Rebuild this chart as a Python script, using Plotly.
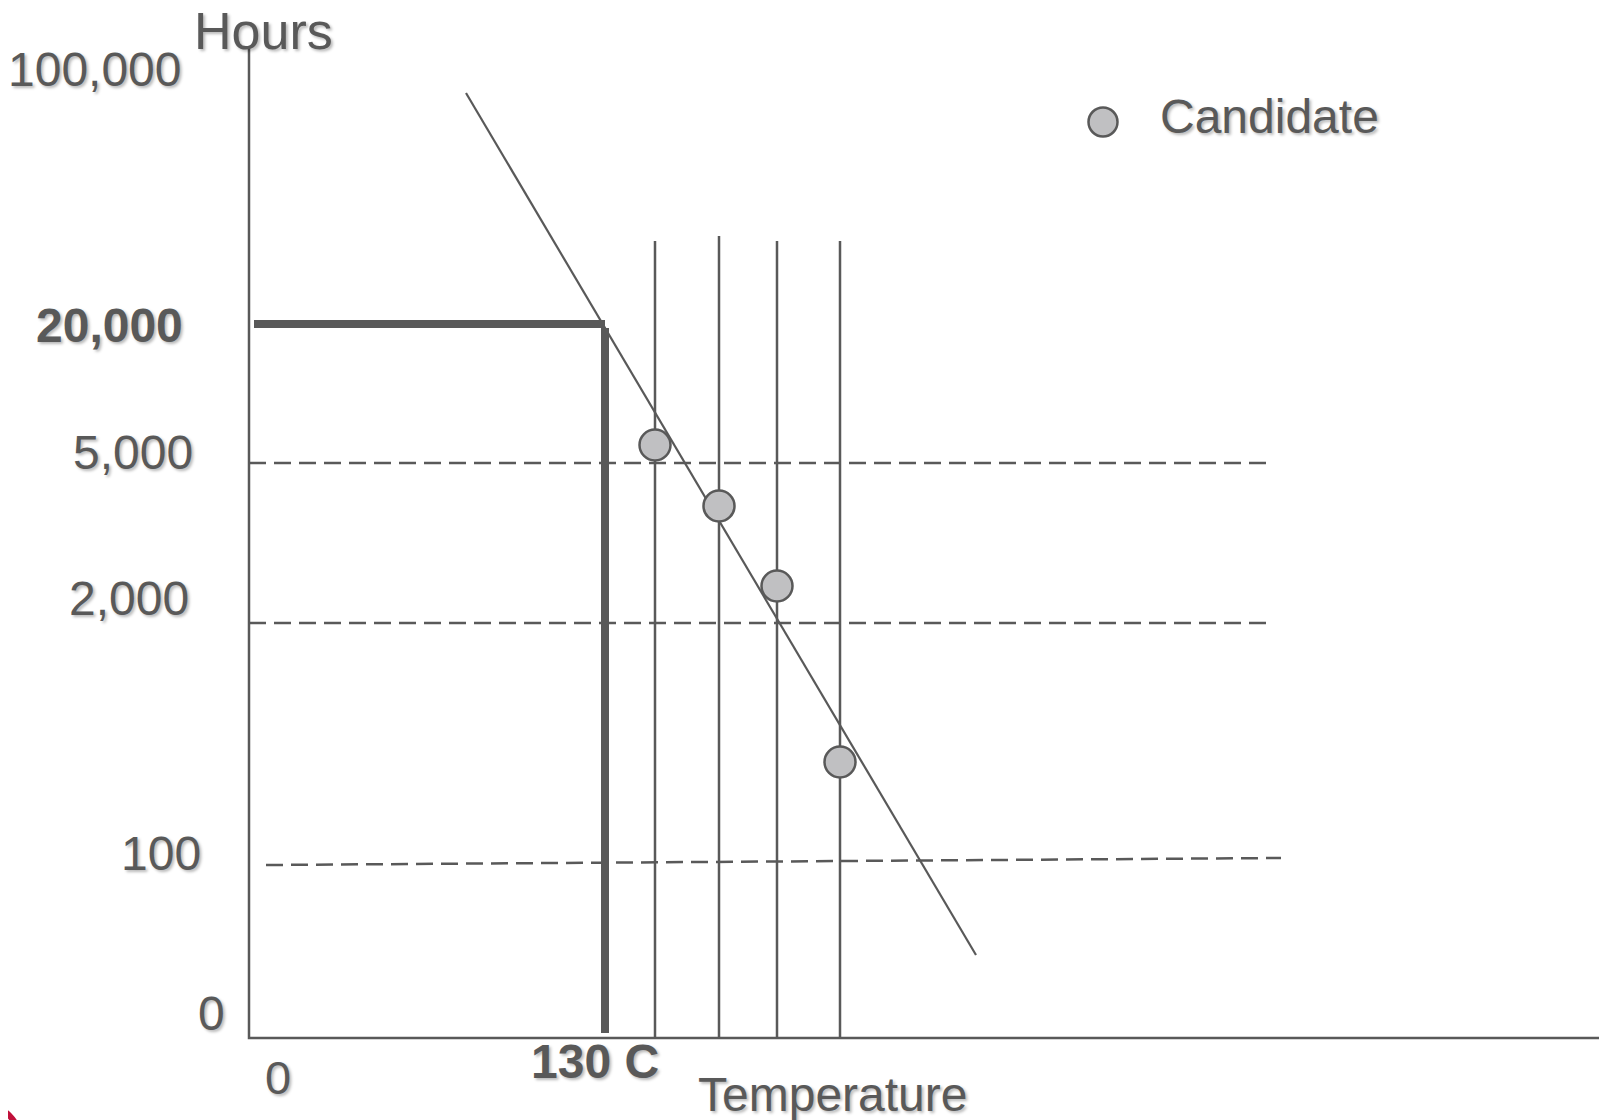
import plotly.graph_objects as go

# Schematic coordinate system: origin at the axes intersection
# x = temperature position, y = hours-level position (schematic units)
hour_labels = ["100,000", "20,000", "5,000", "2,000", "100", "0"]
hour_label_y = [969, 713, 586, 440, 185, 25]
hour_label_right = [-65, -64, -54, -58, -46, -22]
hour_label_bold = [False, True, False, False, False, False]

dashed_levels_y = [575, 415]
dashed_end_x = 1020
level100_y = [173, 180]
level100_x = [17, 1032]

spec_temp_x = 356          # 130 C
spec_hours_y = 714         # 20,000 h

candidate_temp = [406, 470, 528, 591]
candidate_hours = [593, 532, 452, 276]
candidate_line_top = [797, 802, 797, 797]

fit_x = [217, 727]
fit_y = [945, 83]

axis_top = 992
axis_right = 1370

ink = "#595959"
font_family = "Liberation Sans, Arial, sans-serif"
shadow = "2px 2px 3px rgba(0,0,0,0.28)"
dash = "17px,8px"

fig = go.Figure()

# Vertical candidate lines
for tx, top in zip(candidate_temp, candidate_line_top):
    fig.add_trace(go.Scatter(x=[tx, tx], y=[0, top], mode="lines",
                             line=dict(color=ink, width=2.5), hoverinfo="skip", showlegend=False))

# Dashed level lines
for ly in dashed_levels_y:
    fig.add_trace(go.Scatter(x=[0, dashed_end_x], y=[ly, ly], mode="lines",
                             line=dict(color=ink, width=2.5, dash=dash), hoverinfo="skip", showlegend=False))
fig.add_trace(go.Scatter(x=level100_x, y=level100_y, mode="lines",
                         line=dict(color=ink, width=2.5, dash=dash), hoverinfo="skip", showlegend=False))

# Fitted trend line
fig.add_trace(go.Scatter(x=fit_x, y=fit_y, mode="lines",
                         line=dict(color=ink, width=2.2), hoverinfo="skip", showlegend=False))

# Spec (20,000 h @ 130 C) thick lines
fig.add_trace(go.Scatter(x=[5, spec_temp_x], y=[spec_hours_y, spec_hours_y], mode="lines",
                         line=dict(color=ink, width=8), hoverinfo="skip", showlegend=False))
fig.add_trace(go.Scatter(x=[spec_temp_x, spec_temp_x], y=[5, spec_hours_y - 4], mode="lines",
                         line=dict(color=ink, width=8), hoverinfo="skip", showlegend=False))

# Axes
fig.add_trace(go.Scatter(x=[0, 0, axis_right], y=[axis_top, 0, 0], mode="lines",
                         line=dict(color=ink, width=2.5), hoverinfo="skip", showlegend=False))

# Candidate points
fig.add_trace(go.Scatter(x=candidate_temp, y=candidate_hours, mode="markers",
                         marker=dict(size=31, color="#C0C0C2", line=dict(color=ink, width=2.5)),
                         name="Candidate", showlegend=False))

# Legend (manual)
fig.add_trace(go.Scatter(x=[854], y=[916], mode="markers",
                         marker=dict(size=29, color="#C0C0C2", line=dict(color=ink, width=2.5)),
                         hoverinfo="skip", showlegend=False))

annotations = [
    dict(x=909, y=922, text="Candidate", xanchor="left", yanchor="middle",
         font=dict(size=48)),
    dict(x=14, y=1007, text="Hours", xanchor="center", yanchor="middle",
         font=dict(size=52)),
    dict(x=29, y=-39, text="0", xanchor="center", yanchor="middle", font=dict(size=47)),
    dict(x=346, y=-23, text="<b>130 C</b>", xanchor="center", yanchor="middle", font=dict(size=48)),
    dict(x=583, y=-56, text="Temperature", xanchor="center", yanchor="middle", font=dict(size=48)),
]
for lab, yy, xr, bold in zip(hour_labels, hour_label_y, hour_label_right, hour_label_bold):
    annotations.append(dict(x=xr, y=yy, text=f"<b>{lab}</b>" if bold else lab,
                            xanchor="right", yanchor="middle", font=dict(size=48)))
for a in annotations:
    a.update(showarrow=False, xref="x", yref="y")
    a["font"].update(family=font_family, color=ink, shadow=shadow)

fig.update_layout(
    width=1607, height=1120,
    margin=dict(l=0, r=0, t=0, b=0),
    paper_bgcolor="white", plot_bgcolor="white",
    xaxis=dict(range=[-241, 1366], visible=False, fixedrange=True),
    yaxis=dict(range=[-90, 1030], visible=False, fixedrange=True),
    annotations=annotations,
    shapes=[dict(type="circle", xref="x", yref="y", x0=-298.5, x1=-229.5, y0=-136.5, y1=-67.5,
                 line=dict(color="#C0103A", width=6))],
    font=dict(family=font_family, color=ink),
    showlegend=False,
)

fig.write_html("out.html")
